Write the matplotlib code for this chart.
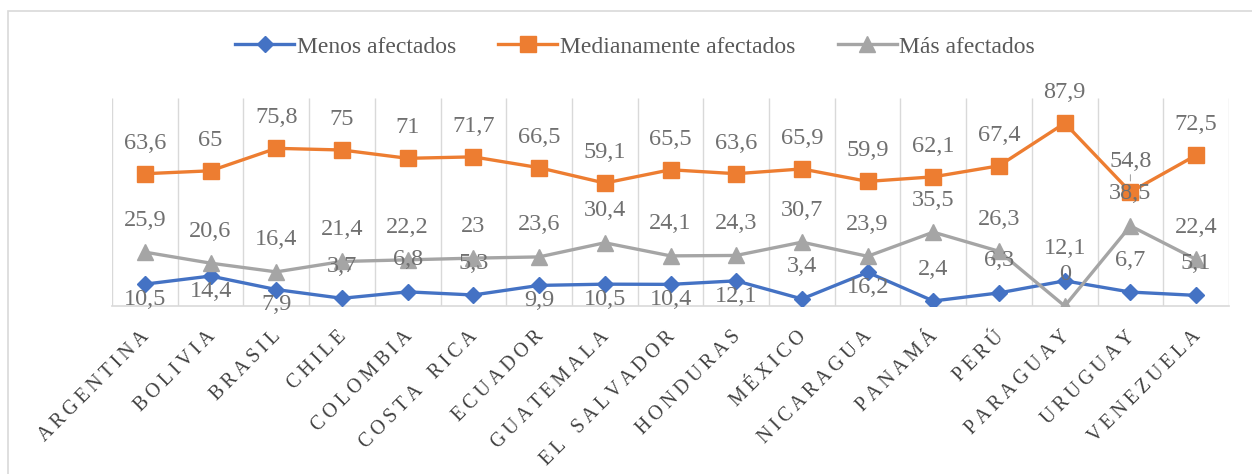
import matplotlib
matplotlib.use("Agg")
import numpy as np
import matplotlib.pyplot as plt
import matplotlib.transforms as mtransforms
from matplotlib.patches import Rectangle

paises = ["ARGENTINA", "BOLIVIA", "BRASIL", "CHILE", "COLOMBIA", "COSTA RICA", "ECUADOR",
          "GUATEMALA", "EL SALVADOR", "HONDURAS", "MÉXICO", "NICARAGUA", "PANAMÁ", "PERÚ",
          "PARAGUAY", "URUGUAY", "VENEZUELA"]
menos = [10.5, 14.4, 7.9, 3.7, 6.8, 5.3, 9.9, 10.5, 10.4, 12.1, 3.4, 16.2, 2.4, 6.3, 12.1, 6.7, 5.1]
medianamente = [63.6, 65, 75.8, 75, 71, 71.7, 66.5, 59.1, 65.5, 63.6, 65.9, 59.9, 62.1, 67.4, 87.9, 54.8, 72.5]
mas = [25.9, 20.6, 16.4, 21.4, 22.2, 23, 23.6, 30.4, 24.1, 24.3, 30.7, 23.9, 35.5, 26.3, 0, 38.5, 22.4]
# where excel put the blue labels
menos_pos = ["below", "below", "below", "above", "above", "above", "below", "below", "below",
             "below", "above", "below", "above", "above", "above", "above", "above"]

plt.rcParams["font.family"] = ["Liberation Serif", "DejaVu Serif"]

fig = plt.figure(figsize=(12.52, 4.74), dpi=100)
ax = fig.add_axes([112 / 1252, 168 / 474, 1117 / 1252, 208 / 474])

# chart border
fig.patches.append(Rectangle((8 / 1252, -0.05), 1.2, 1.05 - 11 / 474, transform=fig.transFigure,
                             fill=False, edgecolor="#d9d9d9", linewidth=1.2))

x = np.arange(len(paises))
ax.vlines(np.arange(-0.5, len(paises)), 0, 100, color="#d9d9d9", linewidth=1, zorder=0)

ax.plot(x, menos, color="#4472C4", linewidth=2.4, marker="D", markersize=8, label="Menos afectados", zorder=3)
ax.plot(x, medianamente, color="#ED7D31", linewidth=2.4, marker="s", markersize=11, label="Medianamente afectados", zorder=4)
ax.plot(x, mas, color="#A5A5A5", linewidth=2.4, marker="^", markersize=11, label="Más afectados", zorder=5)


def fmt(v):
    return ("%g" % v).replace(".", ",")


lab_kw = dict(textcoords="offset points", ha="center", va="center", fontsize=17.5, color="#707070", zorder=10,
              annotation_clip=False)
for i, v in enumerate(medianamente):
    if i == 15:
        ax.annotate(fmt(v), (i, v), xytext=(0, 22), arrowprops=dict(arrowstyle="-", color="#a6a6a6", lw=0.8,
                                                                     shrinkA=0, shrinkB=8), **lab_kw)
    else:
        ax.annotate(fmt(v), (i, v), xytext=(0, 22), **lab_kw)
for i, v in enumerate(mas):
    ax.annotate(fmt(v), (i, v), xytext=(0, 23), **lab_kw)
for i, v in enumerate(menos):
    dy = 23 if menos_pos[i] == "above" else -11
    ax.annotate(fmt(v), (i, v), xytext=(0, dy), **lab_kw)

ax.set_xlim(-0.5, len(paises) - 0.5)
ax.set_ylim(0, 100)
ax.set_yticks([])
ax.set_xticks(x)
ax.set_xticklabels(["\u2009".join(p).replace("\u2009 \u2009", "\u2009 \u2009\u2009") for p in paises],
                   rotation=45, ha="right", va="top", rotation_mode="anchor", fontsize=14.3, color="#404040")
ax.tick_params(axis="x", length=0, pad=11)
shift = mtransforms.ScaledTranslation(-5 / 100, -6 / 100, fig.dpi_scale_trans)
for lab in ax.get_xticklabels():
    lab.set_transform(lab.get_transform() + shift)
for s in ["top", "right", "left"]:
    ax.spines[s].set_visible(False)
ax.spines["bottom"].set_color("#d9d9d9")
ax.spines["bottom"].set_linewidth(1.2)

fig.legend(loc="center", bbox_to_anchor=(635 / 1252, 1 - 47 / 474), ncol=3, frameon=False, fontsize=17,
           handlelength=2.5, handletextpad=0.1, columnspacing=1.8, labelcolor="#595959")

fig.savefig("out.png")
